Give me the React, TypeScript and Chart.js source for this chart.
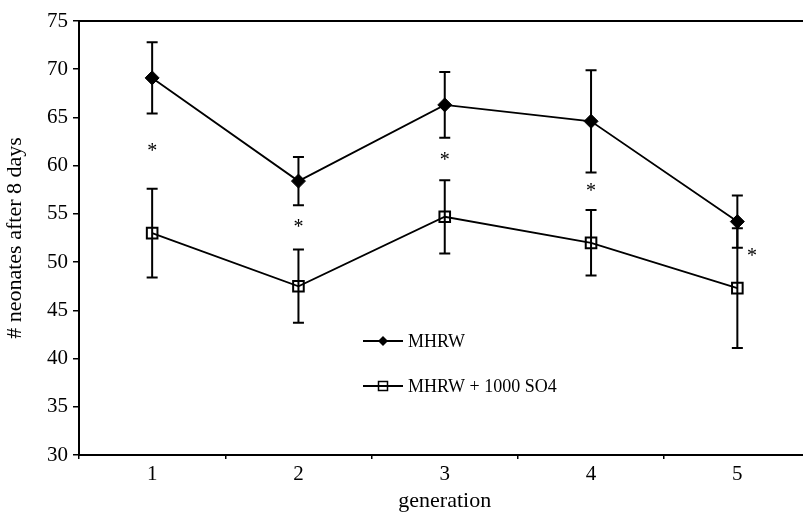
import React, { useEffect, useRef } from "react";
import { Chart, registerables } from "chart.js";

Chart.register(...registerables);

const GENERATIONS = ["1", "2", "3", "4", "5"];
const MHRW = [69.1, 58.4, 66.3, 64.6, 54.2];
const MHRW_ERR = [3.7, 2.5, 3.4, 5.3, 2.7];
const SO4 = [53.0, 47.5, 54.7, 52.0, 47.3];
const SO4_ERR = [4.6, 3.8, 3.8, 3.4, 6.2];
const STAR_Y = [61.9, 54.1, 61.0, 57.8, 51.0];
const STAR_X = [0, 1, 2, 3, 4.1];
const Y_TICKS = [30, 35, 40, 45, 50, 55, 60, 65, 70, 75];
const LEGEND_LABELS = ["MHRW", "MHRW + 1000 SO4"];

const FONT = "'Liberation Serif', 'Times New Roman', serif";

const errorBars = {
  id: "errorBars",
  afterDatasetsDraw(chart: any) {
    const { ctx, scales } = chart;
    const y = scales.y;
    ctx.save();
    ctx.strokeStyle = "#000";
    ctx.lineWidth = 2;
    chart.data.datasets.forEach((ds: any, di: number) => {
      const meta = chart.getDatasetMeta(di);
      ds.errors.forEach((e: number, i: number) => {
        const px = meta.data[i].x;
        const top = y.getPixelForValue(ds.data[i] + e);
        const bot = y.getPixelForValue(ds.data[i] - e);
        ctx.beginPath();
        ctx.moveTo(px, top);
        ctx.lineTo(px, bot);
        ctx.moveTo(px - 5.5, top);
        ctx.lineTo(px + 5.5, top);
        ctx.moveTo(px - 5.5, bot);
        ctx.lineTo(px + 5.5, bot);
        ctx.stroke();
      });
    });
    // significance asterisks
    ctx.fillStyle = "#000";
    ctx.font = `20px ${FONT}`;
    ctx.textAlign = "center";
    ctx.textBaseline = "alphabetic";
    STAR_Y.forEach((v, i) => {
      const px = scales.x.getPixelForValue(STAR_X[i]);
      const py = y.getPixelForValue(v);
      ctx.fillText("*", px, py + 10);
    });
    ctx.restore();
  },
  afterDraw(chart: any) {
    const { ctx, chartArea } = chart;
    ctx.save();
    // top frame line
    ctx.strokeStyle = "#000";
    ctx.lineWidth = 2;
    ctx.beginPath();
    ctx.moveTo(chartArea.left, chartArea.top);
    ctx.lineTo(chartArea.right, chartArea.top);
    ctx.lineTo(chartArea.right, chartArea.bottom);
    ctx.stroke();
    // legend
    const rows = [341, 386];
    LEGEND_LABELS.forEach((label, i) => {
      const ly = rows[i];
      ctx.lineWidth = 1.8;
      ctx.beginPath();
      ctx.moveTo(363, ly);
      ctx.lineTo(403, ly);
      ctx.stroke();
      if (i === 0) {
        ctx.fillStyle = "#000";
        ctx.beginPath();
        ctx.moveTo(383, ly - 5);
        ctx.lineTo(388, ly);
        ctx.lineTo(383, ly + 5);
        ctx.lineTo(378, ly);
        ctx.closePath();
        ctx.fill();
      } else {
        ctx.lineWidth = 1.5;
        ctx.strokeRect(378.5, ly - 4.5, 9, 9);
      }
      ctx.fillStyle = "#000";
      ctx.font = `18px ${FONT}`;
      ctx.textAlign = "left";
      ctx.textBaseline = "middle";
      ctx.fillText(label, 408, ly + 1);
    });
    ctx.restore();
  },
};

export default function App() {
  const ref = useRef<HTMLCanvasElement>(null);
  useEffect(() => {
    const chart = new Chart(ref.current!, {
      type: "line",
      data: {
        labels: GENERATIONS,
        datasets: [
          {
            label: LEGEND_LABELS[0],
            data: MHRW,
            errors: MHRW_ERR,
            borderColor: "#000",
            backgroundColor: "#000",
            borderWidth: 1.8,
            pointStyle: "rectRot",
            pointRadius: 7,
            pointBorderWidth: 1,
            pointBackgroundColor: "#000",
            pointBorderColor: "#000",
            tension: 0,
          } as any,
          {
            label: LEGEND_LABELS[1],
            data: SO4,
            errors: SO4_ERR,
            borderColor: "#000",
            backgroundColor: "rgba(0,0,0,0)",
            borderWidth: 1.8,
            pointStyle: "rect",
            pointRadius: 7.5,
            pointBorderWidth: 2,
            pointBackgroundColor: "rgba(0,0,0,0)",
            pointBorderColor: "#000",
            tension: 0,
          } as any,
        ],
      },
      options: {
        responsive: false,
        animation: false,
        layout: { padding: { top: 21, right: 8, left: 0, bottom: 0 } },
        plugins: { legend: { display: false }, tooltip: { enabled: false } },
        scales: {
          x: {
            type: "category",
            offset: true,
            grid: {
              offset: true,
              drawOnChartArea: false,
              drawTicks: true,
              tickLength: 4,
              color: "#000",
              lineWidth: 1.5,
            },
            border: { color: "#000", width: 2 },
            ticks: {
              color: "#000",
              font: { family: FONT, size: 21 },
              padding: 3,
              maxRotation: 0,
            },
            title: {
              display: true,
              text: "generation",
              color: "#000",
              font: { family: FONT, size: 22, lineHeight: 1 },
              padding: { top: 0, bottom: 0 },
            },
            afterFit: (s: any) => {
              s.height = 57;
            },
          },
          y: {
            min: 30,
            max: 75,
            afterBuildTicks: (s: any) => {
              s.ticks = Y_TICKS.map((v) => ({ value: v }));
            },
            grid: {
              drawOnChartArea: false,
              tickLength: 6,
              color: "#000",
              lineWidth: 1.5,
            },
            border: { color: "#000", width: 2 },
            ticks: {
              color: "#000",
              font: { family: FONT, size: 21 },
              padding: 5,
            },
            title: {
              display: true,
              text: "# neonates after 8 days",
              color: "#000",
              font: { family: FONT, size: 22, lineHeight: 1 },
              padding: { top: 4, bottom: 0 },
            },
            afterFit: (s: any) => {
              s.width = 79;
            },
          },
        },
      },
      plugins: [errorBars],
    } as any);
    return () => chart.destroy();
  }, []);
  return (
    <div
      style={{
        position: "fixed",
        left: 0,
        top: 0,
        width: 803,
        height: 512,
        overflow: "hidden",
        background: "#fff",
      }}
    >
      <canvas ref={ref} width={820} height={512} style={{ display: "block" }} />
    </div>
  );
}
